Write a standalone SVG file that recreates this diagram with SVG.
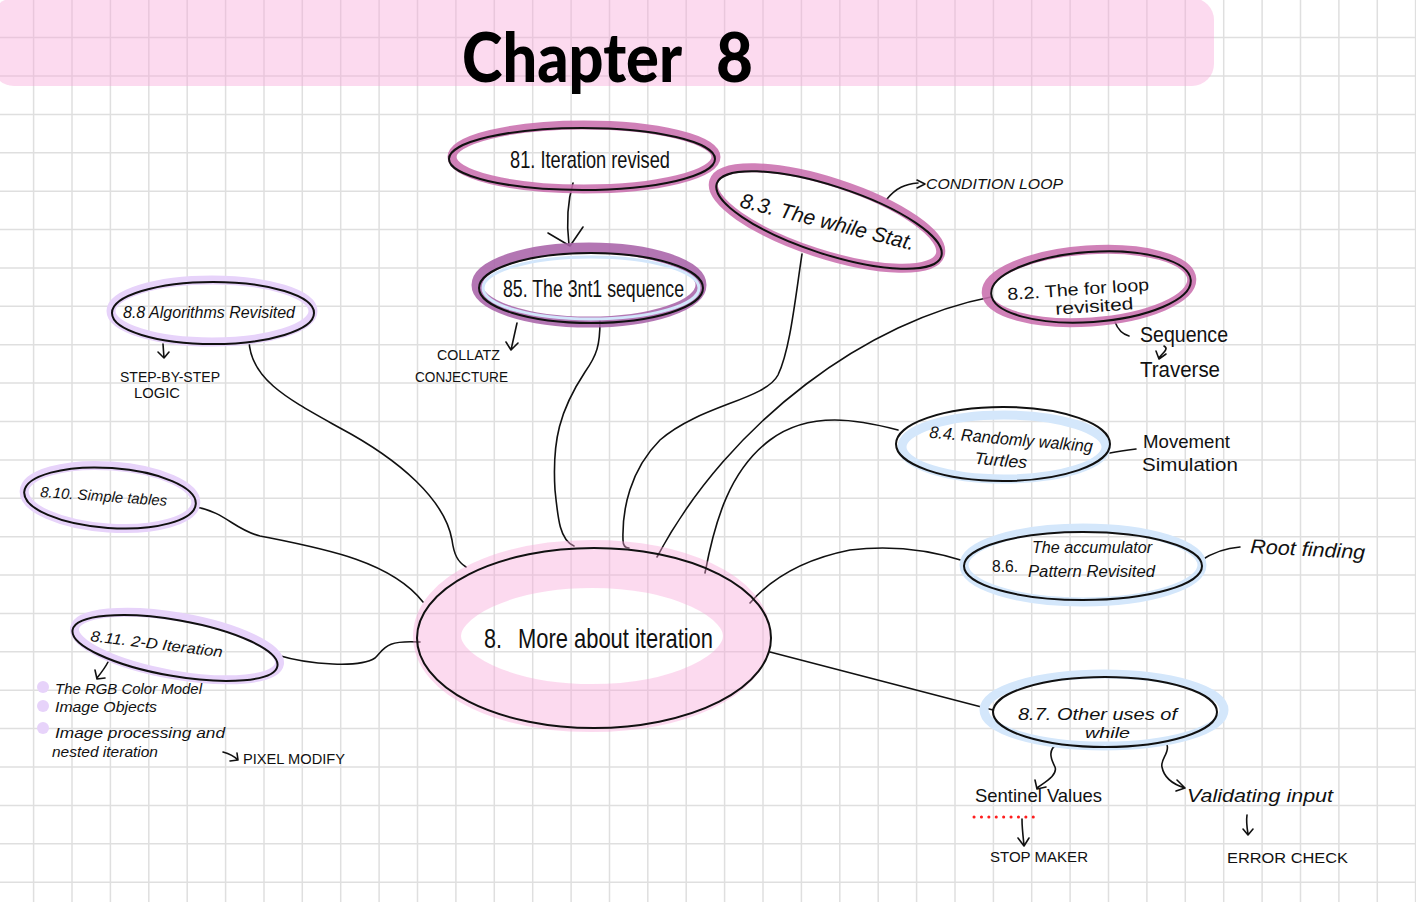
<svg xmlns="http://www.w3.org/2000/svg" width="1416" height="902" viewBox="0 0 1416 902">
<style>
.t{font-family:"Liberation Sans",Arial,sans-serif;fill:#111}
.ol{fill:none;stroke:#111;stroke-width:2}
.conn{fill:none;stroke:#111;stroke-width:1.6;stroke-linecap:round;stroke-linejoin:round}
.mauve{fill:none;stroke:#c96fae;stroke-width:9;opacity:.88}
.purp{fill:none;stroke:#a963a9;stroke-width:11;opacity:.88}
.lav{fill:none;stroke:#e7d3fa;stroke-width:9}
.blue{fill:none;stroke:#d4e7fb;stroke-width:9}
.grid{fill:none;stroke:#dfdfdf;stroke-width:1.5}
.title{font-family:Lato,"Liberation Sans",sans-serif;font-size:68px;font-weight:900;fill:#000}
</style>
<rect width="1416" height="902" fill="#ffffff"/>
<path class="grid" d="M33.6 0V902M72 0V902M110.4 0V902M148.8 0V902M187.2 0V902M225.6 0V902M264 0V902M302.3 0V902M340.7 0V902M379.1 0V902M417.5 0V902M455.9 0V902M494.3 0V902M532.7 0V902M571.1 0V902M609.5 0V902M647.8 0V902M686.2 0V902M724.6 0V902M763 0V902M801.4 0V902M839.8 0V902M878.2 0V902M916.6 0V902M955 0V902M993.4 0V902M1031.7 0V902M1070.1 0V902M1108.5 0V902M1146.9 0V902M1185.3 0V902M1223.7 0V902M1262.1 0V902M1300.5 0V902M1338.9 0V902M1377.3 0V902M1415.6 0V902M0 37.6H1416M0 76H1416M0 114.4H1416M0 152.8H1416M0 191.2H1416M0 229.6H1416M0 268H1416M0 306.3H1416M0 344.7H1416M0 383.1H1416M0 421.5H1416M0 459.9H1416M0 498.3H1416M0 536.7H1416M0 575.1H1416M0 613.5H1416M0 651.8H1416M0 690.2H1416M0 728.6H1416M0 767H1416M0 805.4H1416M0 843.8H1416M0 882.2H1416"/>
<g id="header">
<rect x="-8" y="-2" width="1222" height="88" rx="22" fill="#f9a6da" opacity="0.42"/>
<text class="title" x="462" y="82" textLength="220" lengthAdjust="spacingAndGlyphs">Chapter</text>
<text class="title" x="716" y="82" textLength="37" lengthAdjust="spacingAndGlyphs">8</text>
</g>
<g id="connectors">
<path class="conn" d="M249 340 C250 380 290 400 340 428 C400 460 445 500 452 540 C454 555 458 562 466 567"/>
<path class="conn" d="M196 507 C225 512 235 530 260 536 C320 548 390 560 423 602"/>
<path class="conn" d="M277 655 C310 665 360 668 375 658 C385 648 385 640 420 642"/>
<path class="conn" d="M600 321 C600 345 597 355 585 372 C560 410 552 440 555 490 C558 520 560 540 574 546"/>
<path class="conn" d="M802 254 C795 300 790 350 778 375 C765 400 700 405 660 440 C630 470 622 510 623 540 C623 546 626 548 629 548"/>
<path class="conn" d="M991 297 C870 320 730 420 657 557"/>
<path class="conn" d="M898 430 C860 420 810 410 770 440 C730 470 715 520 705 573"/>
<path class="conn" d="M964 561 C930 550 890 545 850 550 C800 560 770 580 750 603"/>
<path class="conn" d="M770 652 L993 710"/>
<path class="conn" d="M573 183 C568 200 566 220 569 245 M548 233 L570 246 L583 227"/>
<path class="conn" d="M887 199 C896 188 905 184 918 183 M917 180 L925 184 L917 188"/>
<path class="conn" d="M1115 322 C1118 330 1122 334 1129 336"/>
<path class="conn" d="M1164 346 C1170 349 1161 354 1159 358 M1156 351 L1159 359 L1166 354"/>
<path class="conn" d="M517 323 L511 350 M506 342 L511 350 L518 343"/>
<path class="conn" d="M163 344 L164 358 M158 352 L164 358 L169 352"/>
<path class="conn" d="M108 662 C105 668 101 673 97 678 M95 670 L97 679 L105 678"/>
<path class="conn" d="M223 752 C230 754 235 757 238 760 M230 761 L238 760 L237 753"/>
<path class="conn" d="M1110 453 C1120 451 1128 450 1136 449"/>
<path class="conn" d="M1200 561 C1212 553 1225 548 1240 547"/>
<path class="conn" d="M1058 743 C1048 750 1050 757 1055 767 C1058 775 1045 782 1037 788 M1035 780 L1037 789 L1046 787"/>
<path class="conn" d="M1167 745 C1170 752 1160 760 1162 767 C1164 778 1172 784 1185 788 M1177 780 L1185 788 L1176 791"/>
<path d="M974 817 H1040" fill="none" stroke="#ff1e1e" stroke-width="3" stroke-linecap="round" stroke-dasharray="0.1 7.3"/>
<path class="conn" d="M1022 819 C1022 828 1023 836 1024 845 M1018 838 L1024 846 L1029 838"/>
<path class="conn" d="M1247 815 C1246 822 1247 828 1248 834 M1243 829 L1248 835 L1253 829"/>
</g>
<g id="main">
<ellipse cx="592" cy="636" rx="155" ry="72" fill="none" stroke="#f9a6da" stroke-width="48" opacity="0.42"/>
<ellipse class="ol" cx="594" cy="638" rx="177" ry="90"/>
<text class="t" x="484" y="648" font-size="28" textLength="18" lengthAdjust="spacingAndGlyphs">8.</text>
<text class="t" x="518" y="648" font-size="28" textLength="195" lengthAdjust="spacingAndGlyphs">More about iteration</text>
</g>
<g id="n81">
<ellipse class="mauve" cx="584" cy="157" rx="132" ry="32"/>
<ellipse class="ol" cx="582" cy="159" rx="133" ry="31"/>
<text class="t" x="510" y="168" font-size="24" textLength="160" lengthAdjust="spacingAndGlyphs">81. Iteration revised</text>
</g>
<g id="n85">
<ellipse class="purp" cx="589" cy="285" rx="112" ry="37"/>
<ellipse cx="591" cy="288" rx="108" ry="31" fill="none" stroke="#d2e6fb" stroke-width="3"/>
<ellipse class="ol" cx="591" cy="288" rx="112" ry="35"/>
<text class="t" x="503" y="297" font-size="23" textLength="181" lengthAdjust="spacingAndGlyphs">85. The 3nt1 sequence</text>
<text class="t" x="437" y="360" font-size="15" textLength="63" lengthAdjust="spacingAndGlyphs">COLLATZ</text>
<text class="t" x="415" y="382" font-size="15" textLength="93" lengthAdjust="spacingAndGlyphs">CONJECTURE</text>
</g>
<g id="n83">
<ellipse class="mauve" cx="827" cy="218" rx="119" ry="36" transform="rotate(18 827 218)"/>
<ellipse class="ol" cx="829" cy="220" rx="118" ry="34" transform="rotate(18 829 220)"/>
<text class="t" x="739" y="207" font-size="21" textLength="179" lengthAdjust="spacingAndGlyphs" transform="rotate(14 739 207)" font-style="italic">8.3. The while Stat.</text>
<text class="t" x="926" y="189" font-size="15" textLength="137" lengthAdjust="spacingAndGlyphs" font-style="italic">CONDITION LOOP</text>
</g>
<g id="n82">
<ellipse class="mauve" cx="1089" cy="286" rx="103" ry="36" transform="rotate(-4 1089 286)"/>
<ellipse class="ol" cx="1091" cy="287" rx="100" ry="35" transform="rotate(-4 1091 287)"/>
<g transform="rotate(-4 1080 302)">
<text class="t" x="1008" y="295" font-size="17" textLength="142" lengthAdjust="spacingAndGlyphs">8.2. The for loop</text>
<text class="t" x="1055" y="313" font-size="17" textLength="78" lengthAdjust="spacingAndGlyphs">revisited</text>
</g>
<text class="t" x="1140" y="342" font-size="22" textLength="88" lengthAdjust="spacingAndGlyphs">Sequence</text>
<text class="t" x="1140" y="377" font-size="22" textLength="80" lengthAdjust="spacingAndGlyphs">Traverse</text>
</g>
<g id="n88">
<ellipse class="lav" cx="212" cy="311" rx="101" ry="31"/>
<ellipse class="ol" cx="213" cy="313" rx="101" ry="31"/>
<text class="t" x="123" y="318" font-size="17" textLength="172" lengthAdjust="spacingAndGlyphs" font-style="italic">8.8 Algorithms Revisited</text>
<text class="t" x="120" y="382" font-size="15" textLength="100" lengthAdjust="spacingAndGlyphs">STEP-BY-STEP</text>
<text class="t" x="134" y="398" font-size="15" textLength="46" lengthAdjust="spacingAndGlyphs">LOGIC</text>
</g>
<g id="n810">
<ellipse class="lav" cx="110" cy="497" rx="86" ry="31" transform="rotate(4 110 497)"/>
<ellipse class="ol" cx="110" cy="498" rx="86" ry="30" transform="rotate(4 110 498)"/>
<text class="t" x="40" y="497" font-size="15" textLength="127" lengthAdjust="spacingAndGlyphs" transform="rotate(4 40 497)" font-style="italic">8.10. Simple tables</text>
</g>
<g id="n811">
<ellipse class="lav" cx="177" cy="646" rx="104" ry="29" transform="rotate(10 177 646)"/>
<ellipse class="ol" cx="175" cy="648" rx="104" ry="28" transform="rotate(10 175 648)"/>
<text class="t" x="90" y="641" font-size="15" textLength="133" lengthAdjust="spacingAndGlyphs" transform="rotate(7 90 641)" font-style="italic">8.11. 2-D Iteration</text>
<circle cx="43" cy="687" r="6" fill="#e7d3fa"/>
<circle cx="43" cy="706" r="6" fill="#e7d3fa"/>
<circle cx="43" cy="728" r="6" fill="#e7d3fa"/>
<text class="t" x="55" y="694" font-size="15" textLength="147" lengthAdjust="spacingAndGlyphs" font-style="italic">The RGB Color Model</text>
<text class="t" x="55" y="712" font-size="15" textLength="102" lengthAdjust="spacingAndGlyphs" font-style="italic">Image Objects</text>
<text class="t" x="55" y="738" font-size="15" textLength="170" lengthAdjust="spacingAndGlyphs" font-style="italic">Image processing and</text>
<text class="t" x="52" y="757" font-size="15" textLength="106" lengthAdjust="spacingAndGlyphs" font-style="italic">nested iteration</text>
<text class="t" x="243" y="764" font-size="14" textLength="102" lengthAdjust="spacingAndGlyphs">PIXEL MODIFY</text>
</g>
<g id="n84">
<ellipse class="blue" cx="1004" cy="447" rx="102" ry="32"/>
<ellipse class="ol" cx="1003" cy="444" rx="107" ry="37"/>
<g transform="rotate(5 1000 452)">
<text class="t" x="928" y="444" font-size="17" textLength="164" lengthAdjust="spacingAndGlyphs" font-style="italic">8.4. Randomly walking</text>
<text class="t" x="975" y="466" font-size="17" textLength="53" lengthAdjust="spacingAndGlyphs" font-style="italic">Turtles</text>
</g>
<text class="t" x="1143" y="448" font-size="19" textLength="87" lengthAdjust="spacingAndGlyphs">Movement</text>
<text class="t" x="1142" y="471" font-size="19" textLength="96" lengthAdjust="spacingAndGlyphs">Simulation</text>
</g>
<g id="n86">
<ellipse class="blue" cx="1083" cy="565" rx="119" ry="37"/>
<ellipse class="ol" cx="1083" cy="566" rx="119" ry="34"/>
<text class="t" x="1032" y="553" font-size="16" textLength="120" lengthAdjust="spacingAndGlyphs" font-style="italic">The accumulator</text>
<text class="t" x="992" y="572" font-size="16" textLength="26" lengthAdjust="spacingAndGlyphs">8.6.</text>
<text class="t" x="1028" y="577" font-size="16" textLength="127" lengthAdjust="spacingAndGlyphs" font-style="italic">Pattern Revisited</text>
<text class="t" x="1250" y="553" font-size="20" textLength="115" lengthAdjust="spacingAndGlyphs" transform="rotate(3 1250 553)" font-style="italic">Root finding</text>
</g>
<g id="n87">
<ellipse class="blue" cx="1104" cy="710" rx="120" ry="36"/>
<ellipse class="ol" cx="1105" cy="712" rx="112" ry="35"/>
<text class="t" x="1018" y="720" font-size="17" textLength="159" lengthAdjust="spacingAndGlyphs" font-style="italic">8.7. Other uses of</text>
<text class="t" x="1085" y="738" font-size="15" textLength="45" lengthAdjust="spacingAndGlyphs" font-style="italic">while</text>
<text class="t" x="975" y="802" font-size="19" textLength="127" lengthAdjust="spacingAndGlyphs">Sentinel Values</text>
<text class="t" x="1187" y="802" font-size="19" textLength="146" lengthAdjust="spacingAndGlyphs" font-style="italic">Validating input</text>
<text class="t" x="990" y="862" font-size="14" textLength="98" lengthAdjust="spacingAndGlyphs">STOP MAKER</text>
<text class="t" x="1227" y="863" font-size="15" textLength="121" lengthAdjust="spacingAndGlyphs">ERROR CHECK</text>
</g>
</svg>
